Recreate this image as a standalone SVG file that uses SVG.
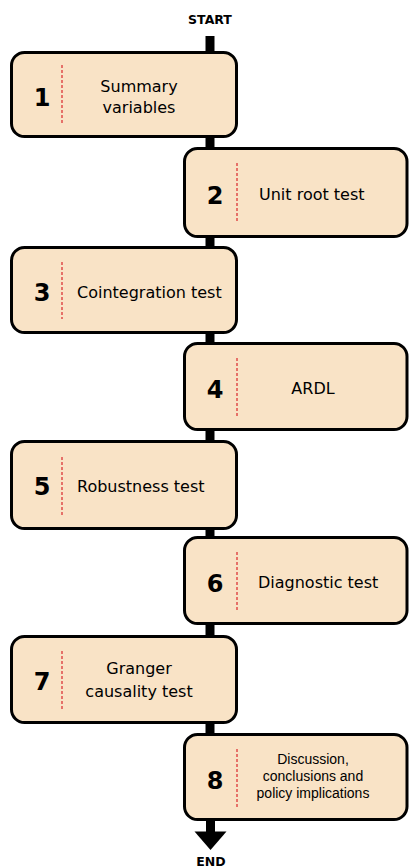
<svg xmlns="http://www.w3.org/2000/svg" width="409" height="868" viewBox="0 0 409 868">
  <style>
    .box { fill: #F9E3C6; stroke: #000; stroke-width: 3; }
    .sep { stroke: #D9262C; stroke-width: 1.2; stroke-dasharray: 3 2; fill: none; }
    .num { font-family: "DejaVu Sans", sans-serif; font-weight: bold; font-size: 24px; fill: #000; text-anchor: middle; }
    .lbl { font-family: "DejaVu Sans", sans-serif; font-size: 16px; fill: #000; }
    .small { font-family: "Liberation Sans", Arial, sans-serif; font-size: 14px; fill: #000; text-anchor: middle; }
    .term { font-family: "DejaVu Sans", sans-serif; font-weight: bold; font-size: 12.5px; fill: #000; text-anchor: middle; }
    .link { stroke: #000; stroke-width: 9; fill: none; }
  </style>

  <text class="term" x="210" y="24">START</text>
  <text class="term" x="211" y="866">END</text>

  <!-- connectors: a thick vertical spine between stages -->
  <g id="connectors">
    <path class="link" d="M210 36 V53"/>
    <path class="link" d="M210 137 V149"/>
    <path class="link" d="M210 237 V248"/>
    <path class="link" d="M210 333 V344"/>
    <path class="link" d="M210 430 V442"/>
    <path class="link" d="M210 529 V538"/>
    <path class="link" d="M210 624 V637"/>
    <path class="link" d="M210 723 V735"/>
    <path class="link" d="M210.5 820 V833"/>
    <polygon points="194.5,831.5 226.5,831.5 210.5,850" fill="#000"/>
  </g>

  <g id="step1">
    <rect class="box" x="11.5" y="52.5" width="225" height="84" rx="13"/>
    <line class="sep" x1="62" y1="65" x2="62" y2="124"/>
    <text class="num" x="42" y="106">1</text>
    <text class="lbl" x="139" y="92" text-anchor="middle">Summary</text>
    <text class="lbl" x="139" y="113" text-anchor="middle">variables</text>
  </g>

  <g id="step2">
    <rect class="box" x="184.5" y="148.5" width="222.5" height="88" rx="13"/>
    <line class="sep" x1="237" y1="163" x2="237" y2="222"/>
    <text class="num" x="215" y="204">2</text>
    <text class="lbl" x="259" y="200">Unit root test</text>
  </g>

  <g id="step3">
    <rect class="box" x="11.5" y="247.5" width="225" height="85" rx="13"/>
    <line class="sep" x1="62" y1="262" x2="62" y2="319"/>
    <text class="num" x="42" y="301">3</text>
    <text class="lbl" x="77" y="298">Cointegration test</text>
  </g>

  <g id="step4">
    <rect class="box" x="184.5" y="343.5" width="222.5" height="86" rx="13"/>
    <line class="sep" x1="237" y1="358" x2="237" y2="417"/>
    <text class="num" x="215" y="398">4</text>
    <text class="lbl" x="313" y="394" text-anchor="middle">ARDL</text>
  </g>

  <g id="step5">
    <rect class="box" x="11.5" y="441.5" width="225" height="87" rx="13"/>
    <line class="sep" x1="62" y1="457" x2="62" y2="515"/>
    <text class="num" x="42" y="495">5</text>
    <text class="lbl" x="77" y="492">Robustness test</text>
  </g>

  <g id="step6">
    <rect class="box" x="184.5" y="537.5" width="222.5" height="86" rx="13"/>
    <line class="sep" x1="237" y1="552" x2="237" y2="610"/>
    <text class="num" x="215" y="592">6</text>
    <text class="lbl" x="258" y="588">Diagnostic test</text>
  </g>

  <g id="step7">
    <rect class="box" x="11.5" y="636.5" width="225" height="86" rx="13"/>
    <line class="sep" x1="62" y1="651" x2="62" y2="709"/>
    <text class="num" x="42" y="690">7</text>
    <text class="lbl" x="139" y="674" text-anchor="middle">Granger</text>
    <text class="lbl" x="139" y="697" text-anchor="middle">causality test</text>
  </g>

  <g id="step8">
    <rect class="box" x="184.5" y="734.5" width="222.5" height="85" rx="13"/>
    <line class="sep" x1="237" y1="749" x2="237" y2="807"/>
    <text class="num" x="215" y="789">8</text>
    <text class="small" x="313" y="764">Discussion,</text>
    <text class="small" x="313" y="781">conclusions and</text>
    <text class="small" x="313" y="798">policy implications</text>
  </g>
</svg>
